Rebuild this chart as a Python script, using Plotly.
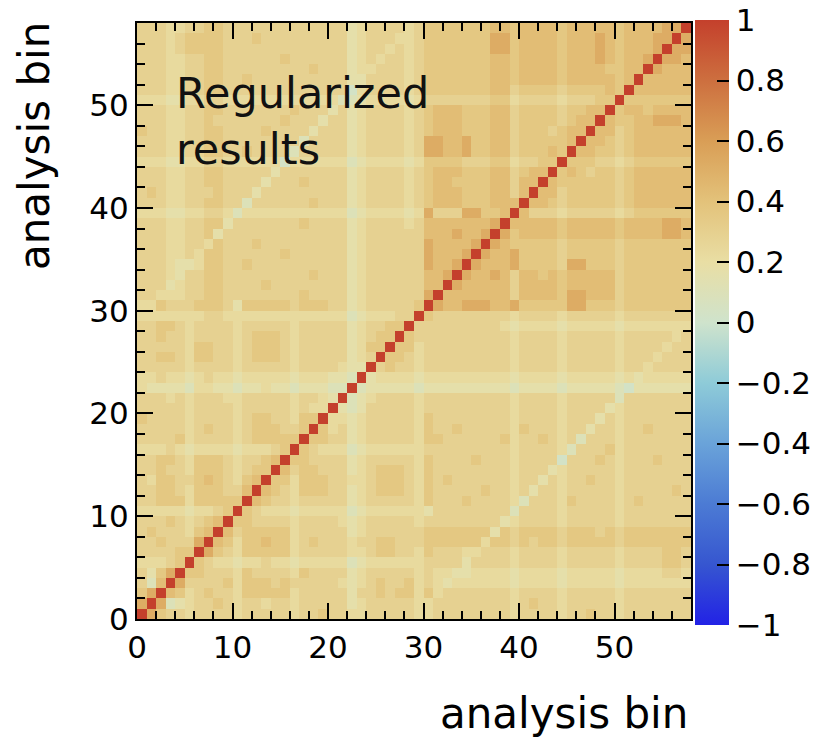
import plotly.graph_objects as go

# ---------------------------------------------------------------------------
# Data: bin-to-bin correlation matrix of the regularized unfolding result
# ---------------------------------------------------------------------------
N_BINS = 58
bins = list(range(N_BINS))
bin_centers = [b + 0.5 for b in bins]

# correlation value for each level code
LEVEL_CODE = {
    "0": 0.03, "1": 0.10, "2": 0.17, "3": 0.23, "4": 0.29,
    "5": 0.36, "6": 0.43, "7": 0.52, "8": 0.63, "9": 0.76, "X": 1.0,
}

# lower triangle, row i holds columns 0..i (the last entry is the diagonal);
# spaces only group the columns in tens
corr_rows = [
    "X",
    "7X",
    "57X",
    "416X",
    "4257X",
    "33345X",
    "444455X",
    "4454447X",
    "45444356X",
    "444543456X",
    "3333323345 X",
    "4455535555 5X",
    "4455435554 46X",
    "4355445654 356X",
    "4454435554 3455X",
    "4455435554 34456X",
    "3334323333 233345X",
    "4444534444 3455555X",
    "4444434544 34555445X",
    "5444434444 345544355X",
    "4444434444 3444443433 X",
    "4443434443 3444443443 2X",
    "3222213322 1223221222 11X",
    "3343323433 2333332333 221X",
    "4444434444 3444443444 4322X",
    "4455435544 3455543444 44234X",
    "4444435544 3455543444 442355X",
    "4454434444 3455543444 4423455X",
    "4455434444 3444443444 44234455X",
    "3333333443 3333333333 331233344X",
    "3354445554 2555554555 4423444445 X",
    "4433344554 4444444544 4423444444 7X",
    "4442344554 4445444444 4423444444 66X",
    "4443244554 4444444454 4423444444 667X",
    "4443223554 4544444444 4423444444 7667X",
    "4443343554 4444454444 4423444444 76667X",
    "4443344354 4454444444 4423444444 766667X",
    "4443344524 4444444444 4423444444 6667667X",
    "4443344552 4444444544 4423444434 66666667X",
    "3332233443 1333333333 3312333323 744477556X",
    "4443344554 4144444454 4423444434 5666555666 X",
    "4543344454 4424444444 4423444434 5666555664 6X",
    "4443344554 4442444544 4423444434 5665555664 66X",
    "4443344554 4444244444 4423444434 5666555664 566X",
    "3332233443 3333303333 3312333323 5555444553 4455X",
    "4443344554 4544441444 4423444434 7766755664 55565X",
    "4443344554 4444444144 4423444434 7766755664 555556X",
    "5443344554 4445444424 4423444434 5666555664 5554566X",
    "4443344544 4444454442 4423444434 5666555664 55554566X",
    "4443344554 4444445444 2423444434 5666555664 555545566X",
    "3332233443 3333333333 3112333323 4444444553 4444344455 X",
    "4443344554 4444444444 4403444434 5555555664 5555455556 5X",
    "4443344554 4544444444 4422444434 5555555665 6666566666 56X",
    "4443344554 4444444454 4423344434 5555555665 6666566665 566X",
    "4443344554 4444454444 4423434434 5555555665 6666566676 5667X",
    "4443455554 4444444444 4423443434 5555555775 6666566676 56667X",
    "4443455554 4454444444 4423444334 5555555775 6666566676 566677X",
    "4443344554 4444444444 4423444434 5555555665 6666566666 5666677X",
]

x_ticks = [0, 10, 20, 30, 40, 50]
y_ticks = [0, 10, 20, 30, 40, 50]
cbar_ticks = [-1, -0.8, -0.6, -0.4, -0.2, 0, 0.2, 0.4, 0.6, 0.8, 1]
cbar_labels = ["\u22121", "\u22120.8", "\u22120.6", "\u22120.4", "\u22120.2",
               "0", "0.2", "0.4", "0.6", "0.8", "1"]

# symmetric matrix from the lower triangle
corr = [[0.0] * N_BINS for _ in bins]
for i, row in enumerate(corr_rows):
    for j, code in enumerate(row.replace(" ", "")):
        corr[i][j] = LEVEL_CODE[code]
        corr[j][i] = LEVEL_CODE[code]

# ---------------------------------------------------------------------------
# Styling
# ---------------------------------------------------------------------------
W, H = 821, 742
L_PX, R_PX, T_PX, B_PX = 137, 691, 23, 619     # plot-area edges in pixels


def px_x(px):
    return (px - L_PX) / (R_PX - L_PX)


def px_y(py):
    return (B_PX - py) / (B_PX - T_PX)


colorscale = [
    [0.0, "#2222e6"],
    [0.1, "#3656d0"],
    [0.2, "#4c7bd4"],
    [0.3, "#6aa3d9"],
    [0.4, "#8ecbd8"],
    [0.5, "#cfe3cc"],
    [0.6, "#e9dea4"],
    [0.7, "#e3c27a"],
    [0.8, "#d99e56"],
    [0.9, "#cd6f3f"],
    [1.0, "#c4402c"],
]

TICK_FONT = dict(family="DejaVu Sans", size=31, color="black")
TITLE_FONT = dict(family="DejaVu Sans", size=42, color="black")

fig = go.Figure(
    go.Heatmap(
        z=corr,
        x=bin_centers,
        y=bin_centers,
        zmin=-1,
        zmax=1,
        colorscale=colorscale,
        hoverinfo="skip",
        colorbar=dict(
            x=px_x(695), xanchor="left", xpad=0,
            y=px_y(20), yanchor="top", ypad=0,
            len=605, lenmode="pixels",
            thickness=34, thicknessmode="pixels",
            outlinewidth=0,
            ticks="inside", ticklen=12, tickwidth=2, tickcolor="black",
            tickvals=cbar_ticks, ticktext=cbar_labels,
            tickfont=TICK_FONT,
        ),
    )
)

axis_common = dict(
    range=[0, N_BINS],
    showgrid=False,
    zeroline=False,
    showline=True,
    linecolor="black",
    linewidth=2,
    mirror="ticks",
    ticks="inside",
    ticklen=16,
    tickwidth=2,
    tickcolor="black",
    tickfont=TICK_FONT,
    minor=dict(dtick=2, tick0=0, ticks="inside", ticklen=8,
               tickwidth=1.5, tickcolor="black", showgrid=False),
)

fig.update_xaxes(**axis_common, tickvals=x_ticks)
fig.update_yaxes(**axis_common, tickvals=y_ticks)

fig.add_annotation(
    text="analysis bin", xref="paper", yref="paper",
    x=px_x(690), y=px_y(713), xanchor="right", yanchor="middle",
    showarrow=False, font=TITLE_FONT,
)
fig.add_annotation(
    text="analysis bin", xref="paper", yref="paper",
    x=px_x(35), y=px_y(20), xanchor="center", yanchor="top",
    textangle=-90, showarrow=False, font=TITLE_FONT,
)
fig.add_annotation(
    text="Regularized<br>results", xref="paper", yref="paper",
    x=px_x(174), y=px_y(66), xanchor="left", yanchor="top", align="left",
    showarrow=False, font=dict(family="DejaVu Sans", size=43, color="#111111"),
)

fig.update_layout(
    width=W,
    height=H,
    margin=dict(l=L_PX, r=W - R_PX, t=T_PX, b=H - B_PX, pad=0,
                autoexpand=False),
    paper_bgcolor="white",
    plot_bgcolor="white",
    showlegend=False,
)

fig.write_html("out.html")
